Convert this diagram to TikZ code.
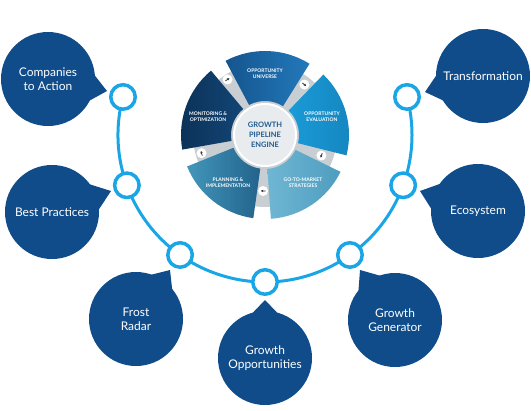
\documentclass[tikz,border=0pt]{standalone}
\usepackage{fontspec}
\setmainfont{Lato}
\usetikzlibrary{calc,arrows.meta}
\definecolor{bubbleblue}{HTML}{0F4C89}
\definecolor{ringblue}{HTML}{1AA6E6}
\definecolor{gapgrey}{HTML}{C9CED3}
\definecolor{universeA}{HTML}{14558F}
\definecolor{universeB}{HTML}{2379BA}
\definecolor{evaluationA}{HTML}{1A9BD7}
\definecolor{evaluationB}{HTML}{1585BF}
\definecolor{gotomarketA}{HTML}{6FB6D3}
\definecolor{gotomarketB}{HTML}{4E9DBF}
\definecolor{planningA}{HTML}{4396BA}
\definecolor{planningB}{HTML}{22638C}
\definecolor{monitoringA}{HTML}{0C3157}
\definecolor{monitoringB}{HTML}{124575}
\definecolor{centergrey}{HTML}{E8ECEF}
\definecolor{centertext}{HTML}{1F5A8E}
\definecolor{arrowgrey}{HTML}{333333}
\tikzset{
  bubble/.style={circle, fill=bubbleblue, minimum size=94bp, inner sep=0pt,
    text=white, align=center, font=\fontsize{12}{14}\selectfont},
  ring/.style={circle, draw=ringblue, line width=3.5bp, fill=white,
    minimum size=24.5bp, inner sep=0pt},
  seglabel/.style={text=white, align=center, font=\bfseries\fontsize{5}{6}\selectfont},
  flowdot/.style={circle, fill=white, minimum size=10bp, inner sep=0pt},
}
\begin{document}
\begin{tikzpicture}[x=1bp,y=1bp]
\useasboundingbox (0,0) rectangle (531,410);
\coordinate (hub) at (265,275);
% wheel
\begin{scope}[shift={(hub)}]
  \fill[gapgrey] (0,0) circle[radius=72bp];
  \foreach \mid/\ca/\cb in {88/universeA/universeB,16/evaluationA/evaluationB,
      -56/gotomarketA/gotomarketB,-128/planningA/planningB,160/monitoringA/monitoringB} {
    \shade[left color=\ca, right color=\cb] (\mid-30:84bp) arc[start angle=\mid-30, end angle=\mid+30, radius=84bp]
      -- (\mid+30:34bp) arc[start angle=\mid+30, end angle=\mid-30, radius=34bp] -- cycle;
  }
\end{scope}
\foreach \g/\r [count=\i] in {52/64,124/67,196/66,268/56,340/60} {
  \node[flowdot] (f\i) at ($(hub)+(\g:\r bp)$) {};
  \draw[-{Latex[length=2.5bp,width=2.5bp]}, line width=0.8bp, arrowgrey]
    ($(f\i)+(\g+90:2.5bp)$) -- ($(f\i)+(\g-90:2.5bp)$);
}
\node[circle, fill=centergrey, draw=white, line width=2bp, minimum size=62bp,
  text=centertext, align=center, font=\bfseries\fontsize{7.5}{10}\selectfont]
  (engine) at (hub) {GROWTH\\PIPELINE\\ENGINE};
\node[seglabel] (univ) at (265,336) {OPPORTUNITY\\UNIVERSE};
\node[seglabel] (eval) at (322,293) {OPPORTUNITY\\EVALUATION};
\node[seglabel] (gtm) at (303,227) {GO-TO-MARKET\\STRATEGIES};
\node[seglabel] (plan) at (228,227) {PLANNING \&\\IMPLEMENTATION};
\node[seglabel] (moni) at (208,293) {MONITORING \&\\OPTIMIZATION};
% arc with rings
\draw[ringblue, line width=3bp] ($(hub)+(165:147bp)$) arc[start angle=165, end angle=375, radius=147bp];
\foreach \ang [count=\i] in {165,200,234.7,270,305.3,340,15} {
  \node[ring] (r\i) at ($(hub)+(\ang:147bp)$) {};
}
% bubbles
\foreach \nm/\pos/\tip/\txt in {
    comp/{48,331}/{107,319}/{Companies\\to Action},
    trans/{483,334}/{425,318}/{Transformation},
    best/{52,198}/{111,219}/{Best Practices},
    eco/{478,199}/{420,219}/{Ecosystem},
    frost/{136,91}/{170,140}/{Frost\\Radar},
    gen/{395,90}/{360,140}/{Growth\\Generator},
    opps/{265,52}/{265,110}/{Growth\\Opportunities}} {
  \node[bubble] (\nm) at (\pos) {\txt};
  \coordinate (t\nm) at (\tip);
  \fill[bubbleblue] ($(\nm.center)!44bp!22:(t\nm)$) -- (t\nm) -- ($(\nm.center)!44bp!-22:(t\nm)$) -- cycle;
}
\end{tikzpicture}
\end{document}
